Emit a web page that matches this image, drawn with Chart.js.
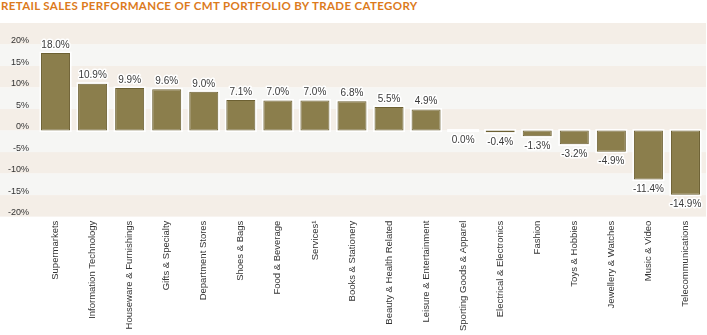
<!DOCTYPE html>
<html>
<head>
<meta charset="utf-8">
<script src="https://cdn.jsdelivr.net/npm/chart.js@4.4.0/dist/chart.umd.min.js"></script>
<style>
  body { margin: 0; background: #fff; }
  #wrap { position: relative; width: 707px; height: 335px; }
  #titulo {
    position: absolute; left: 1px; top: 0px;
    font: bold 11.5px Lato, sans-serif; color: #dc7a1c;
    letter-spacing: 0.35px; white-space: nowrap; line-height: 12px;
  }
  canvas { position: absolute; left: 0; top: 0; }
</style>
</head>
<body>
<div id="wrap">
  <div id="titulo">RETAIL SALES PERFORMANCE OF CMT PORTFOLIO BY TRADE CATEGORY</div>
  <canvas id="grafico" width="707" height="335"></canvas>
</div>
<script>
// categorias y crecimiento (%)
const categorias = [
  'Supermarkets', 'Information Technology', 'Houseware & Furnishings', 'Gifts & Specialty',
  'Department Stores', 'Shoes & Bags', 'Food & Beverage', 'Services\u00b9',
  'Books & Stationery', 'Beauty & Health Related', 'Leisure & Entertainment',
  'Sporting Goods & Apparel', 'Electrical & Electronics', 'Fashion', 'Toys & Hobbies',
  'Jewellery & Watches', 'Music & Video', 'Telecommunications'
];
const crecimiento = [18.0, 10.9, 9.9, 9.6, 9.0, 7.1, 7.0, 7.0, 6.8, 5.5, 4.9, 0.0, -0.4, -1.3, -3.2, -4.9, -11.4, -14.9];
const ejeMin = -20;
const ejeMax = 25;
const paso = 5;

const fuente = "'Liberation Sans', Arial, sans-serif";

// franjas de fondo alternas en todo el ancho
const franjas = {
  id: 'franjas',
  beforeDraw(chart) {
    const { ctx, scales: { y } } = chart;
    let i = 0;
    for (let v = ejeMax; v > ejeMin; v -= paso) {
      const y1 = y.getPixelForValue(v);
      const y2 = y.getPixelForValue(v - paso);
      ctx.fillStyle = (i % 2 === 0) ? '#f4eee7' : '#f6f6f4';
      ctx.fillRect(0, y1, chart.width - 1, y2 - y1);
      i++;
    }
  }
};

// borde blanco alrededor de cada barra
const bordeBlanco = {
  id: 'bordeBlanco',
  beforeDatasetsDraw(chart) {
    const { ctx } = chart;
    chart.getDatasetMeta(0).data.forEach((bar) => {
      const p = bar.getProps(['x', 'y', 'base', 'width'], true);
      const top = Math.min(p.y, p.base);
      const h = Math.abs(p.base - p.y);
      ctx.fillStyle = '#ffffff';
      ctx.fillRect(p.x - p.width / 2 - 1.5, top - 1.5, p.width + 3, h + 3);
    });
  }
};

// etiquetas de valor encima / debajo
const etiquetas = {
  id: 'etiquetas',
  afterDatasetsDraw(chart) {
    const { ctx } = chart;
    ctx.save();
    ctx.font = '10px ' + fuente;
    ctx.textAlign = 'center';
    ctx.lineJoin = 'round';
    chart.getDatasetMeta(0).data.forEach((bar, i) => {
      const v = crecimiento[i];
      const txt = v.toFixed(1) + '%';
      const p = bar.getProps(['x', 'y', 'base'], true);
      let ty;
      if (v > 0) {
        ctx.textBaseline = 'bottom';
        ty = p.y - 3;
      } else {
        ctx.textBaseline = 'top';
        ty = Math.max(p.y, p.base) + 5;
      }
      ctx.strokeStyle = '#ffffff';
      ctx.lineWidth = 3;
      ctx.strokeText(txt, p.x, ty);
      ctx.fillStyle = '#3a3a3a';
      ctx.fillText(txt, p.x, ty);
    });
    ctx.restore();
  }
};

new Chart(document.getElementById('grafico'), {
  type: 'bar',
  data: {
    labels: categorias,
    datasets: [{
      data: crecimiento,
      backgroundColor: '#8b7e4c',
      borderColor: '#6c6032',
      borderWidth: 1,
      borderSkipped: false,
      barPercentage: 0.9,
      categoryPercentage: 0.87
    }]
  },
  options: {
    responsive: false,
    animation: false,
    devicePixelRatio: 1,
    layout: { padding: { top: 23, left: 0, right: 3, bottom: 0 } },
    plugins: {
      legend: { display: false },
      tooltip: { enabled: false }
    },
    scales: {
      x: {
        grid: { display: false, drawTicks: false },
        border: { display: false },
        ticks: {
          minRotation: 90, maxRotation: 90, padding: 4,
          color: '#333333', font: { family: fuente, size: 9.5 }
        }
      },
      y: {
        min: ejeMin, max: ejeMax,
        grid: { display: false, drawTicks: false },
        border: { display: false },
        ticks: {
          stepSize: paso, padding: 8, labelOffset: -4,
          color: '#333333', font: { family: fuente, size: 9 },
          callback: (v) => (v === ejeMax ? '' : v + '%')
        }
      }
    }
  },
  plugins: [franjas, bordeBlanco, etiquetas]
});
</script>
</body>
</html>
